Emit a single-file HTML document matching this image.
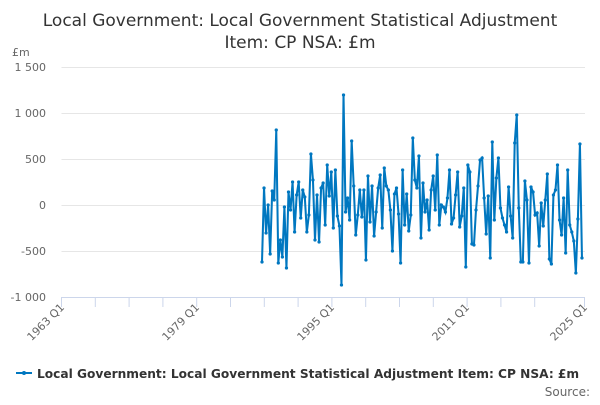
<!DOCTYPE html>
<html><head><meta charset="utf-8"><style>
body{margin:0;background:#fff}
</style></head><body>
<svg width="600" height="400" xmlns="http://www.w3.org/2000/svg" font-family="DejaVu Sans, Liberation Sans, sans-serif">
<defs><marker id="m" markerUnits="userSpaceOnUse" markerWidth="4" markerHeight="4" refX="2" refY="2"><circle cx="2" cy="2" r="1.6" fill="#0077c0"/></marker></defs>
<text x="300" y="26" text-anchor="middle" font-size="17" fill="#333">Local Government: Local Government Statistical Adjustment</text>
<text x="300" y="48" text-anchor="middle" font-size="17" fill="#333">Item: CP NSA: £m</text>
<text x="12" y="56" font-size="11" fill="#666">£m</text>
<g stroke="#e6e6e6" stroke-width="1">
<line x1="61.5" x2="585" y1="67.5" y2="67.5"/><line x1="61.5" x2="585" y1="113.5" y2="113.5"/>
<line x1="61.5" x2="585" y1="159.5" y2="159.5"/><line x1="61.5" x2="585" y1="205.5" y2="205.5"/>
<line x1="61.5" x2="585" y1="251.5" y2="251.5"/>
</g>
<line x1="61.5" x2="585" y1="297.5" y2="297.5" stroke="#ccd6eb"/>
<g font-size="11" fill="#666" text-anchor="end">
<text x="46" y="71">1 500</text><text x="46" y="117">1 000</text><text x="46" y="163">500</text>
<text x="46" y="209">0</text><text x="46" y="255">-500</text><text x="46" y="301">-1 000</text>
</g>
<g stroke="#ccd6eb">
<line x1="61.5" x2="61.5" y1="297" y2="307"/><line x1="95.3" x2="95.3" y1="297" y2="307"/><line x1="129.1" x2="129.1" y1="297" y2="307"/><line x1="162.9" x2="162.9" y1="297" y2="307"/><line x1="196.7" x2="196.7" y1="297" y2="307"/><line x1="230.5" x2="230.5" y1="297" y2="307"/><line x1="264.3" x2="264.3" y1="297" y2="307"/><line x1="298.1" x2="298.1" y1="297" y2="307"/><line x1="331.9" x2="331.9" y1="297" y2="307"/><line x1="365.7" x2="365.7" y1="297" y2="307"/><line x1="399.5" x2="399.5" y1="297" y2="307"/><line x1="433.3" x2="433.3" y1="297" y2="307"/><line x1="467.1" x2="467.1" y1="297" y2="307"/><line x1="500.9" x2="500.9" y1="297" y2="307"/><line x1="534.7" x2="534.7" y1="297" y2="307"/><line x1="584.5" x2="584.5" y1="297" y2="307"/>
</g>
<g font-size="11" fill="#666" text-anchor="end">
<text transform="translate(65,308) rotate(-45)">1963 Q1</text>
<text transform="translate(200,308) rotate(-45)">1979 Q1</text>
<text transform="translate(335,308) rotate(-45)">1995 Q1</text>
<text transform="translate(470,308) rotate(-45)">2011 Q1</text>
<text transform="translate(588,308) rotate(-45)">2025 Q1</text>
</g>
<g transform="translate(262,0) scale(1.019,1)">
<polyline fill="none" stroke="#0077c0" stroke-width="2" marker-start="url(#m)" marker-mid="url(#m)" marker-end="url(#m)" points="0,262 2,188 4,233 6,205 8,254 10,191 12,200 14,130 16,263 18,240 20,257 22,207 24,268 26,192 28,210 30,182 32,232 34,195 36,182 38,218 40,190 42,197 44,232 46,215 48,154 50,180 52,240 54,195 56,242 58,188 60,183 62,225 64,165 66,196 68,172 70,228 72,170 74,216 76,226 78,285 80,95 82,212 84,198 86,220 88,141 90,186 92,235 94,215 96,190 98,217 100,190 102,260 104,176 106,222 108,186 110,236 112,212 114,188 116,175 118,228 120,168 122,186 124,190 126,210 128,251 130,194 132,188 134,214 136,263 138,170 140,225 142,194 144,231 146,215 148,138 150,180 152,188 154,156 156,238 158,183 160,212 162,200 164,230 166,190 168,176 170,210 172,155 174,225 176,205 178,207 180,212 182,198 184,170 186,224 188,218 190,195 192,172 194,227 196,216 198,188 200,267 202,165 204,172 206,244 208,245 210,210 212,186 214,160 216,158 218,198 220,234 222,196 224,258 226,142 228,220 230,178 232,158 234,208 236,218 238,225 240,232 242,187 244,216 246,238 248,143 250,115 252,208 254,262 256,262 258,181 260,200 262,263 264,187 266,192 268,215 270,213 272,246 274,203 276,226 278,200 280,174 282,259 284,264 286,195 288,190 290,165 292,220 294,235 296,198 298,253 300,170 302,225 304,232 306,241 308,273 310,219 312,144 314,258"/>
</g>
<line x1="16" x2="32" y1="373" y2="373" stroke="#0077c0" stroke-width="2"/>
<circle cx="24" cy="373" r="2" fill="#0077c0"/>
<text x="37" y="378" font-size="12.2" font-weight="bold" fill="#333">Local Government: Local Government Statistical Adjustment Item: CP NSA: £m</text>
<text x="590" y="396" font-size="12" fill="#666" text-anchor="end">Source:</text>
</svg>
</body></html>
